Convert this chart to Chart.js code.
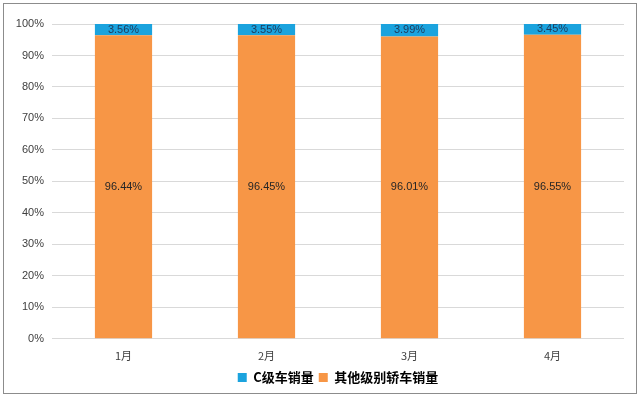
<!DOCTYPE html>
<html><head><meta charset="utf-8">
<script src="https://cdn.jsdelivr.net/npm/chart.js@4/dist/chart.umd.min.js"></script>
<style>
html,body{margin:0;padding:0;background:#fff;}
#wrap{position:relative;width:640px;height:396px;}
#frame{position:absolute;left:3px;top:3px;width:632px;height:389px;border:1px solid #8c8c8c;pointer-events:none;}
canvas{position:absolute;left:0;top:0;}
</style></head>
<body>
<div id="wrap"><canvas id="c" width="640" height="396"></canvas><div id="frame"></div></div>
<script>
const categories = ['1月','2月','3月','4月'];
const cClassShare = [3.56, 3.55, 3.99, 3.45];
const otherShare = [96.44, 96.45, 96.01, 96.55];
const seriesNames = ['C级车销量','其他级别轿车销量'];

const labelPlugin = {
  id: 'valLabels',
  afterDatasetsDraw(chart) {
    const ctx = chart.ctx;
    ctx.save();
    ctx.font = '11px "Liberation Sans", Arial, sans-serif';
    ctx.textAlign = 'center';
    ctx.textBaseline = 'middle';
    chart.data.datasets.forEach((ds, i) => {
      const meta = chart.getDatasetMeta(i);
      meta.data.forEach((el, j) => {
        const p = el.getCenterPoint();
        ctx.fillStyle = ds.labelColor;
        ctx.fillText(ds.data[j].toFixed(2) + '%', p.x, p.y);
      });
    });
    ctx.restore();
  }
};

const legendShift = {
  id: 'legendShift',
  afterLayout(chart) {
    if (chart.legend) { chart.legend.left += 26; chart.legend.right += 26; }
  }
};

new Chart(document.getElementById('c'), {
  type: 'bar',
  data: {
    labels: categories,
    datasets: [
      {label: seriesNames[1], data: otherShare, backgroundColor: '#f79646', labelColor: '#262626'},
      {label: seriesNames[0], data: cClassShare, backgroundColor: '#1ba3de', labelColor: '#1f3a5a'}
    ]
  },
  options: {
    responsive: false,
    animation: false,
    devicePixelRatio: 1,
    layout: {padding: {left: 0, right: 16, top: 24, bottom: 2}},
    datasets: {bar: {categoryPercentage: 1, barPercentage: 0.4}},
    scales: {
      x: {
        stacked: true,
        grid: {display: false},
        border: {display: false},
        ticks: {color: '#404040', font: {size: 11, family: '"Noto Sans CJK SC", sans-serif'}, padding: 2},
        afterFit(s) { s.height += 2; }
      },
      y: {
        stacked: true,
        min: 0, max: 100,
        ticks: {stepSize: 10, callback: v => v + '%', color: '#404040', font: {size: 11, family: '"Liberation Sans", Arial, sans-serif'}, padding: 8},
        grid: {color: '#d9d9d9', drawTicks: false},
        border: {display: false},
        afterFit(s) { s.width = 52; }
      }
    },
    plugins: {
      legend: {
        position: 'bottom',
        reverse: true,
        labels: {boxWidth: 9, boxHeight: 9, color: '#000', padding: 5, font: {size: 13, weight: 'bold', family: '"Noto Sans CJK SC", sans-serif'}}
      },
      tooltip: {enabled: false}
    }
  },
  plugins: [labelPlugin, legendShift]
});
</script>
</body></html>
